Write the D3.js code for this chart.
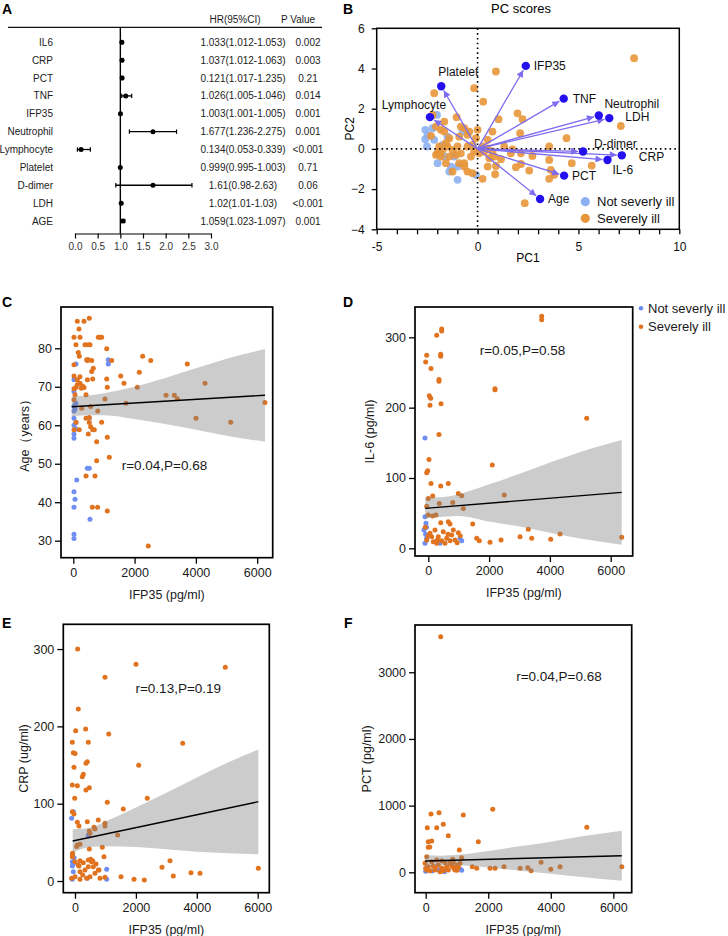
<!DOCTYPE html>
<html><head><meta charset="utf-8">
<script src="https://cdn.jsdelivr.net/npm/d3@7"></script>
<style>body{margin:0;background:#fff} svg{display:block}</style>
</head><body><svg id="c" width="728" height="936"></svg>
<script>
// ================= DATA =================
// Panel A: forest plot
const forestVars = ["IL6","CRP","PCT","TNF","IFP35","Neutrophil","Lymphocyte","Platelet","D-dimer","LDH","AGE"];
const forestHR = [1.033,1.037,1.04,1.12,1.003,1.72,0.134,0.999,1.72,1.02,1.059];
const forestLo = [1.012,1.012,1.02,1.03,1.001,1.2,0.053,0.995,0.9,1.01,1.023];
const forestHi = [1.053,1.063,1.06,1.25,1.005,2.24,0.339,1.003,2.58,1.03,1.097];
const forestHRText = ["1.033(1.012-1.053)","1.037(1.012-1.063)","0.121(1.017-1.235)","1.026(1.005-1.046)","1.003(1.001-1.005)","1.677(1.236-2.275)","0.134(0.053-0.339)","0.999(0.995-1.003)","1.61(0.98-2.63)","1.02(1.01-1.03)","1.059(1.023-1.097)"];
const forestP = ["0.002","0.003","0.21","0.014","0.001","0.001","<0.001","0.71","0.06","<0.001","0.001"];
const forestTicks = [0,0.5,1,1.5,2,2.5,3];

// Panel B: PCA
const pcaSevere = [[7.76,4.51],[0.91,3.85],[-0.17,3.02],[-2.15,2.77],[0.28,2.35],[1.98,1.77],[2.23,1.48],[1.04,1.48],[-1.04,1.58],[7.10,1.14],[-1.65,1.36],[-1.82,0.95],[2.11,0.78],[4.41,0.53],[-2.31,0.65],[3.55,0.12],[0,0.95],[-0.66,1.03],[-0.50,0.70],[-0.91,0.61],[-1.40,0.53],[-0.08,0.53],[0.74,0.86],[0.50,0.45],[1.65,-0.22],[2.15,-0.22],[2.72,-0.35],[3.55,-0.55],[3.63,-1.04],[3.80,-1.29],[3.55,-1.49],[4.67,-0.71],[5.66,-0.83],[1.90,-0.91],[2.15,-0.75],[2.56,-1.08],[0.87,-1.26],[0.50,-0.88],[0.91,-0.85],[0.25,-1.49],[0.58,-0.46],[1.16,-0.51],[2.34,-2.70],[0.25,0.12],[0.50,0.03],[0.74,-0.13],[0.08,-0.22],[-0.33,-0.38],[-0.66,-0.71],[-0.50,-1.13],[-0.25,-1.21],[-0.66,-0.88],[-0.91,-0.71],[-1.24,-1.13],[-1.57,-0.71],[-1.82,-0.38],[-1.98,-0.22],[-1.73,-0.05],[-1.49,0.12],[-1.24,-0.05],[-0.99,0.12],[-1.57,0.28],[-1.90,0.12],[-1.40,-0.38],[-1.07,-0.30],[-0.83,-0.22],[-0.50,0.12],[-0.25,0.20],[-0.17,-0.13],[-2.23,1.69],[-1.65,0.86],[-2.06,1.11],[-0.83,1.11],[-0.41,0.86],[0.17,-0.05],[0.33,-0.13],[0.83,-0.38],[1.32,0.12],[1.73,-0.02],[-2.06,-0.30],[-1.90,-0.13]];
const pcaMild = [[-2.59,0.95],[-2.48,0.70],[-2.59,0.48],[-2.51,0.12],[-2.01,1.69],[-2.23,1.03],[-1.98,-0.71],[-1.40,-1.13],[-0.99,-1.54],[-0.08,-1.29],[-0.74,0.86],[-1.73,0.20],[-1.16,-0.38],[-1.32,-0.88],[-1.65,-0.38],[-0.99,-0.88],[-1.49,0.61],[-2.15,0.45]];
const loadNames = ["IFP35","Platelet","Lymphocyte","TNF","Neutrophil","LDH","D-dimer","CRP","IL-6","PCT","Age"];
const loadPC1 = [2.39,-1.80,-2.36,4.27,6.01,6.53,5.23,7.15,6.44,4.29,3.10];
const loadPC2 = [4.13,3.12,1.58,2.50,1.66,1.53,-0.13,-0.32,-0.55,-1.33,-2.49];
const pcaXTicks = [-5,-4,-3,-2,-1,0,1,2,3,4,5,6,7,8,9,10];
const pcaYTicks = [-4,-2,0,2,4,6];

// Panel C: Age vs IFP35
const cSevere = [[23,82.9],[131,87.0],[186,85.0],[349,87.0],[522,87.8],[219,82.9],[88,80.9],[382,80.9],[480,80.9],[545,80.9],[816,82.9],[870,82.9],[925,82.9],[163,78.9],[196,77.9],[457,76.8],[600,76.8],[23,75.7],[653,74.8],[600,74.0],[1090,79.9],[1253,76.8],[1547,72.8],[1654,70.9],[2154,73.8],[2264,77.9],[2526,76.8],[2089,69.9],[1720,65.7],[1090,72.0],[1110,69.9],[1034,66.8],[3025,67.8],[3296,67.8],[3394,66.9],[3720,75.9],[4298,70.9],[4004,61.8],[5136,60.8],[6254,65.9],[415,67.9],[460,71.8],[633,72.0],[23,72.8],[219,72.6],[219,70.9],[130,70.5],[88,69.8],[23,69.5],[56,67.9],[23,66.6],[274,64.4],[567,64.9],[796,63.7],[522,62.0],[415,61.8],[522,60.7],[567,59.6],[633,58.8],[685,58.8],[490,57.7],[925,60.8],[88,60.8],[196,58.8],[23,58.8],[763,55.7],[1110,56.9],[1175,51.7],[763,50.8],[415,46.8],[708,46.8],[620,38.7],[793,38.7],[1110,37.7],[2447,28.6],[300,70.2],[350,69.8],[130,71.8],[260,69.6],[437,77.0],[490,77.0]];
const cMild = [[88,75.9],[1142,77.0],[1142,75.9],[23,71.8],[23,68.8],[88,65.7],[23,63.7],[23,61.8],[88,60.7],[522,61.8],[88,59.0],[23,57.7],[23,56.6],[457,48.8],[522,48.8],[111,45.8],[23,42.7],[56,40.8],[23,38.7],[545,35.6],[23,31.7],[23,30.6],[23,65.0],[56,64.2],[23,60.0]];
const cBandX = [-50,500,1000,2000,3000,4000,5000,6254];
const cBandHi = [67.5,67.7,68.3,70.0,72.3,74.8,77.3,79.8];
const cBandLo = [62.3,62.6,62.6,61.6,60.3,58.8,57.3,55.7];
const cFit = [[-50,64.8],[6254,67.8]];

// Panel D: IL-6 vs IFP35
const dSevere = [[3730,330],[3730,325],[440,312],[440,309],[276,303],[-53,274.6],[408,276],[408,273],[-86,265],[89,255.7],[352,240],[352,237.6],[33,216.8],[79,213.5],[56,203.5],[418,205.4],[2194,227],[2194,225.5],[5211,185],[352,162],[2105,118.3],[23,126.4],[-53,107.4],[-20,110.2],[89,92.3],[408,88.5],[658,92.3],[2500,75.7],[987,78.1],[1099,74.7],[803,65.3],[1152,56.8],[362,63.9],[145,74.3],[0,71],[-53,60],[253,47.3],[145,45.9],[0,47.3],[1461,34.5],[408,36.4],[658,37.8],[714,34.5],[3290,27],[3017,16.5],[3402,14.2],[4027,12.8],[4333,20.3],[6363,15.6],[2392,11.8],[2030,8.5],[1592,14.2],[1678,10.8],[56,21.3],[220,26],[329,16.5],[493,23.6],[605,14.2],[770,18.9],[878,11.8],[987,22.2],[165,9.4],[441,10.8],[714,10.8],[-53,11.8],[276,7.1],[549,7.1],[112,16.5],[822,26],[-100,30],[0,18],[300,12],[650,20],[950,8],[1050,18]];
const dMild = [[-109,157],[-109,44.9],[-76,35.5],[-142,26],[-53,14.2],[385,7.1],[1043,14.2],[1099,10.8],[-109,7.1],[-90,20],[-60,30]];
const dBandX = [-100,500,1000,2000,3000,4000,5000,6363];
const dBandHi = [72,73,77,91,106,122,137,154];
const dBandLo = [43,45,46,38,31,22,14,5];
const dFit = [[-100,56.8],[6363,79.5]];

// Panel E: CRP vs IFP35
const eSevere = [[88,300.1],[2003,280.3],[4936,276.4],[985,263.5],[109,222.5],[22,194.4],[351,196.6],[1107,190.2],[-88,179.4],[437,179.4],[3537,178.1],[-55,166],[361,152.3],[404,154.3],[-33,147.1],[2092,149.7],[240,134.9],[273,138],[-88,124.2],[77,123.3],[361,117.7],[470,120.7],[-10,107],[1061,101.8],[2374,107],[1586,93.1],[-88,89.6],[-33,86.7],[77,75.9],[404,76.7],[765,78.9],[985,74.6],[985,71.2],[131,71.2],[624,69.5],[1402,59.5],[470,64.7],[77,46.6],[164,47.5],[470,41.4],[897,43.6],[952,31.4],[-88,34.9],[-88,31.4],[515,28],[581,26.3],[690,22],[164,26.3],[131,19.4],[437,18.5],[788,14.2],[2857,17.7],[3120,26.3],[3228,6.5],[3809,10.7],[4105,9.9],[6020,16.4],[1511,5.6],[1938,2.2],[2276,1.3],[985,4.8],[0,25],[109,20.7],[273,23.7],[437,27.2],[548,25],[601,18.5],[328,14.2],[164,12],[0,5.6],[493,5.6],[657,10],[766,14.2],[821,3.5],[384,3.5],[-110,3.5],[164,2.2],[253,7.8],[0,165],[55,44.5],[-76,35.8],[493,61.7],[657,67.2]];
const eMild = [[-55,89.6],[-110,81.1],[-88,25],[-88,19.4],[-55,12],[-88,2.2],[1040,15.1],[1040,2.2],[404,3.5],[437,59.5],[-60,22],[-30,30]];
const eBandX = [-76,500,1000,2000,3000,4000,5000,6020];
const eBandHi = [67,69,77,95,114,134,153,170];
const eBandLo = [37,44,45,44,41,38,36,34.5];
const eFit = [[-76,51.7],[6020,102.6]];

// Panel F: PCT vs IFP35
const fSevere = [[480,3534],[170,875],[426,894],[2144,945],[1203,860],[51,669],[352,669],[563,720],[5152,675],[723,549],[1683,459],[83,459],[192,470],[83,375],[130,380],[1075,334],[32,234],[864,195],[1152,219],[3690,150],[1491,84],[1632,60],[2058,60],[2218,60],[2506,84],[3018,60],[3264,69],[3370,24],[4000,45],[4298,84],[6272,84],[-22,135],[83,84],[192,159],[298,34],[405,109],[512,60],[618,144],[725,34],[832,94],[938,34],[1043,75],[1098,135],[138,24],[352,184],[563,24],[778,135],[243,94],[458,9],[672,84],[883,159],[992,109],[32,34],[512,174],[0,60],[300,70],[600,50],[900,60],[1000,30]];
const fMild = [[1100,50],[1150,30],[600,10],[200,20],[0,15],[400,40]];
const fBandX = [-22,500,1000,2000,3000,4000,5000,6272];
const fBandHi = [260,250,262,320,390,460,540,624];
const fBandLo = [80,103,105,72,25,-20,-70,-126];
const fFit = [[-22,170],[6272,249]];

const ifpTicks = [0,2000,4000,6000];

// ================= DRAWING =================
const FONT = "'Liberation Sans', Arial, Helvetica, sans-serif";
const svg = d3.select("#c").attr("font-family", FONT);
const ORANGE = "#E1731F", BLUE = "#6E8EF2";
const ORANGE_B = "#E8963A", BLUE_B = "#8DB0F2";

function panelLabel(t, x, y){
  svg.append("text").attr("x",x).attr("y",y).attr("font-size",14).attr("font-weight","bold").attr("fill","#000").text(t);
}
panelLabel("A",2,14); panelLabel("B",343,14); panelLabel("C",2,307); panelLabel("D",343,307); panelLabel("E",2,628); panelLabel("F",344,628);

// ---------- A ----------
(function(){
  const g = svg.append("g");
  const x = d3.scaleLinear().domain([0,3]).range([75,211]);
  const y = d3.scalePoint().domain(forestVars).range([42.3,221]);
  g.append("line").attr("x1",8).attr("x2",322).attr("y1",27.3).attr("y2",27.3).attr("stroke","#111").attr("stroke-width",1.2);
  g.append("text").attr("x",235).attr("y",22.5).attr("text-anchor","middle").attr("font-size",10).attr("fill","#222").text("HR(95%CI)");
  g.append("text").attr("x",298).attr("y",22.5).attr("text-anchor","middle").attr("font-size",10).attr("fill","#222").text("P Value");
  g.append("line").attr("x1",x(1)).attr("x2",x(1)).attr("y1",27.3).attr("y2",233.5).attr("stroke","#000").attr("stroke-width",1.4);
  const ax = g.append("g").attr("transform","translate(0,233.5)")
    .call(d3.axisBottom(x).tickValues(forestTicks).tickFormat(d3.format(".1f")).tickSize(5).tickSizeOuter(0).tickPadding(4));
  ax.attr("font-family",FONT);
  ax.select(".domain").attr("stroke-width",1.2);
  ax.selectAll(".tick line").attr("stroke-width",1.2);
  ax.selectAll("text").attr("font-size",10).attr("fill","#333");
  forestVars.forEach((v,i)=>{
    const yy = y(v);
    g.append("text").attr("x",53).attr("y",yy).attr("dy","0.35em").attr("text-anchor","end").attr("font-size",10).attr("fill","#222").text(v);
    g.append("line").attr("x1",x(forestLo[i])).attr("x2",x(forestHi[i])).attr("y1",yy).attr("y2",yy).attr("stroke","#000").attr("stroke-width",1.3);
    [forestLo[i],forestHi[i]].forEach(e=>g.append("line").attr("x1",x(e)).attr("x2",x(e)).attr("y1",yy-2.2).attr("y2",yy+2.2).attr("stroke","#000").attr("stroke-width",1.2));
    g.append("circle").attr("cx",x(forestHR[i])).attr("cy",yy).attr("r",2.5).attr("fill","#000");
    g.append("text").attr("x",243).attr("y",yy).attr("dy","0.35em").attr("text-anchor","middle").attr("font-size",10).attr("fill","#222").text(forestHRText[i]);
    g.append("text").attr("x",308).attr("y",yy).attr("dy","0.35em").attr("text-anchor","middle").attr("font-size",10).attr("fill","#222").text(forestP[i]);
  });
})();

// ---------- B ----------
(function(){
  const g = svg.append("g");
  const L=376.7,R=679.3,T=28.3,B=229.3;
  const x = d3.scaleLinear().domain([-5,10]).range([L,R]);
  const y = d3.scaleLinear().domain([-4,6]).range([B,T]);
  const defs = svg.append("defs");
  defs.append("marker").attr("id","arr").attr("viewBox","0 0 10 10").attr("refX",10).attr("refY",5)
    .attr("markerWidth",8).attr("markerHeight",7).attr("markerUnits","userSpaceOnUse").attr("orient","auto")
    .append("path").attr("d","M0,0L10,5L0,10z").attr("fill","#7D6CF0");
  g.append("text").attr("x",521).attr("y",13).attr("text-anchor","middle").attr("font-size",13).text("PC scores");
  g.selectAll(".pm").data(pcaMild).join("circle").attr("cx",d=>x(d[0])).attr("cy",d=>y(d[1])).attr("r",3.9).attr("fill",BLUE_B).attr("fill-opacity",0.9);
  g.selectAll(".ps").data(pcaSevere).join("circle").attr("cx",d=>x(d[0])).attr("cy",d=>y(d[1])).attr("r",3.9).attr("fill",ORANGE_B).attr("fill-opacity",0.9);
  // dotted zero lines
  g.append("line").attr("x1",x(0)).attr("x2",x(0)).attr("y1",T).attr("y2",B).attr("stroke","#000").attr("stroke-width",1.6).attr("stroke-dasharray","1.6,3.2");
  g.append("line").attr("x1",L).attr("x2",R).attr("y1",y(0)).attr("y2",y(0)).attr("stroke","#000").attr("stroke-width",1.6).attr("stroke-dasharray","1.6,3.2");
  // arrows
  const ox = x(0), oy = y(0);
  loadNames.forEach((n,i)=>{
    const px = x(loadPC1[i]), py = y(loadPC2[i]);
    const len = Math.hypot(px-ox, py-oy), k = (len-5)/len;
    g.append("line").attr("x1",ox).attr("y1",oy).attr("x2",ox+(px-ox)*k).attr("y2",oy+(py-oy)*k)
      .attr("stroke","#7D6CF0").attr("stroke-width",1.3).attr("marker-end","url(#arr)");
  });
  loadNames.forEach((n,i)=>{
    g.append("circle").attr("cx",x(loadPC1[i])).attr("cy",y(loadPC2[i])).attr("r",4.2).attr("fill","#2410EE");
  });
  const lab = {"IFP35":[8,0,"start"],"Platelet":[17,-14,"middle"],"Lymphocyte":[-16,-12,"middle"],"TNF":[9,0,"start"],
    "Neutrophil":[33,-12,"middle"],"LDH":[16,-1.5,"start"],"D-dimer":[11,-8,"start"],"CRP":[17,1,"start"],
    "IL-6":[5,9.5,"start"],"PCT":[8,0,"start"],"Age":[8,0,"start"]};
  loadNames.forEach((n,i)=>{
    const o = lab[n];
    g.append("text").attr("x",x(loadPC1[i])+o[0]).attr("y",y(loadPC2[i])+o[1]).attr("dy","0.35em")
      .attr("text-anchor",o[2]).attr("font-size",12).attr("fill","#111").text(n);
  });
  g.append("rect").attr("x",L).attr("y",T).attr("width",R-L).attr("height",B-T).attr("fill","none").attr("stroke","#000").attr("stroke-width",1.5);
  const ax = g.append("g").attr("transform",`translate(0,${B})`)
    .call(d3.axisBottom(x).tickValues(pcaXTicks).tickFormat(d=>d%5===0?d:"").tickSize(5).tickSizeOuter(0).tickPadding(8));
  const ay = g.append("g").attr("transform",`translate(${L},0)`)
    .call(d3.axisLeft(y).tickValues(pcaYTicks).tickSize(5).tickSizeOuter(0).tickPadding(7));
  [ax,ay].forEach(a=>{a.attr("font-family",FONT); a.select(".domain").remove(); a.selectAll(".tick line").attr("stroke-width",1.3); a.selectAll("text").attr("font-size",12).attr("fill","#111");});
  g.append("text").attr("x",(L+R)/2).attr("y",262).attr("text-anchor","middle").attr("font-size",12).text("PC1");
  g.append("text").attr("transform",`translate(350,${(T+B)/2}) rotate(-90)`).attr("text-anchor","middle").attr("dy","0.35em").attr("font-size",12).text("PC2");
  // legend
  const lg = [["Not severly ill",BLUE_B,201.7],["Severely ill",ORANGE_B,218.3]];
  lg.forEach(l=>{
    g.append("circle").attr("cx",585.3).attr("cy",l[2]).attr("r",4.6).attr("fill",l[1]);
    g.append("text").attr("x",597).attr("y",l[2]).attr("dy","0.35em").attr("font-size",13).attr("fill","#111").text(l[0]);
  });
})();

// ---------- C-F scatter ----------
function scatter(cfg){
  const g = svg.append("g");
  const x = d3.scaleLinear().domain(cfg.xd).range([cfg.L,cfg.R]);
  const y = d3.scaleLinear().domain(cfg.yd).range([cfg.B,cfg.T]);
  g.selectAll(".m").data(cfg.mild).join("circle").attr("cx",d=>x(d[0])).attr("cy",d=>y(d[1])).attr("r",2.5).attr("fill",BLUE);
  g.selectAll(".s").data(cfg.severe).join("circle").attr("cx",d=>x(d[0])).attr("cy",d=>y(d[1])).attr("r",2.5).attr("fill",ORANGE);
  const band = cfg.bx.map((v,i)=>({x:v,lo:cfg.lo[i],hi:cfg.hi[i]}));
  g.append("path").datum(band).attr("d",d3.area().x(d=>x(d.x)).y0(d=>y(d.lo)).y1(d=>y(d.hi)).curve(d3.curveMonotoneX))
    .attr("fill","#808080").attr("fill-opacity",0.4);
  g.append("path").datum(cfg.fit).attr("d",d3.line().x(d=>x(d[0])).y(d=>y(d[1]))).attr("stroke","#000").attr("stroke-width",1.4).attr("fill","none");
  g.append("rect").attr("x",cfg.L).attr("y",cfg.T).attr("width",cfg.R-cfg.L).attr("height",cfg.B-cfg.T).attr("fill","none").attr("stroke","#000").attr("stroke-width",1.7);
  const ax = g.append("g").attr("transform",`translate(0,${cfg.B})`).call(d3.axisBottom(x).tickValues(ifpTicks).tickFormat(d3.format("d")).tickSize(6).tickSizeOuter(0).tickPadding(4));
  const ay = g.append("g").attr("transform",`translate(${cfg.L},0)`).call(d3.axisLeft(y).tickValues(cfg.yt).tickFormat(d3.format("d")).tickSize(6).tickSizeOuter(0).tickPadding(3));
  [ax,ay].forEach(a=>{a.attr("font-family",FONT); a.select(".domain").remove(); a.selectAll(".tick line").attr("stroke-width",1.3); a.selectAll("text").attr("font-size",12.5).attr("fill","#1a1a1a");});
  g.append("text").attr("x",(cfg.L+cfg.R)/2).attr("y",cfg.B+41).attr("text-anchor","middle").attr("font-size",12.5).attr("fill","#1a1a1a").text("IFP35 (pg/ml)");
  g.append("text").attr("transform",`translate(${cfg.ylx},${(cfg.T+cfg.B)/2}) rotate(-90)`).attr("text-anchor","middle").attr("dy","0.35em").attr("font-size",12.5).attr("fill","#1a1a1a").text(cfg.ylab);
  g.append("text").attr("x",x(cfg.ann[0])).attr("y",y(cfg.ann[1])).attr("dy","0.35em").attr("text-anchor","middle").attr("font-size",13.5).attr("fill","#1a1a1a").text(cfg.annText);
  return g;
}
scatter({L:61,R:272.7,T:307,B:557.7,xd:[-401,6506],yd:[25.58,90.73],yt:[30,40,50,60,70,80],severe:cSevere,mild:cMild,bx:cBandX,lo:cBandLo,hi:cBandHi,fit:cFit,ylab:"Age（years）",ylx:25,ann:[2975,49.7],annText:"r=0.04,P=0.68"});
scatter({L:415,R:632.7,T:307,B:556,xd:[-437.5,6724],yd:[-10.9,343.1],yt:[0,100,200,300],severe:dSevere,mild:dMild,bx:dBandX,lo:dBandLo,hi:dBandHi,fit:dFit,ylab:"IL-6 (pg/ml)",ylx:370,ann:[3099,282],annText:"r=0.05,P=0.58"});
scatter({L:63.3,R:269.3,T:624.3,B:892.7,xd:[-384,6381],yd:[-15.1,332],yt:[0,100,200,300],severe:eSevere,mild:eMild,bx:eBandX,lo:eBandLo,hi:eBandHi,fit:eFit,ylab:"CRP (ug/ml)",ylx:24,ann:[3392,249],annText:"r=0.13,P=0.19"});
scatter({L:415,R:631.7,T:625,B:892.7,xd:[-342,6588],yd:[-306,3709],yt:[0,1000,2000,3000],severe:fSevere,mild:fMild,bx:fBandX,lo:fBandLo,hi:fBandHi,fit:fFit,ylab:"PCT (pg/ml)",ylx:367,ann:[4263,2934],annText:"r=0.04,P=0.68"});

// legend for D
[["Not severly ill",BLUE,308.3],["Severely ill",ORANGE,326.7]].forEach(l=>{
  svg.append("circle").attr("cx",641).attr("cy",l[2]).attr("r",2.3).attr("fill",l[1]);
  svg.append("text").attr("x",648).attr("y",l[2]).attr("dy","0.35em").attr("font-size",13).attr("fill","#1a1a1a").text(l[0]);
});
</script></body></html>
